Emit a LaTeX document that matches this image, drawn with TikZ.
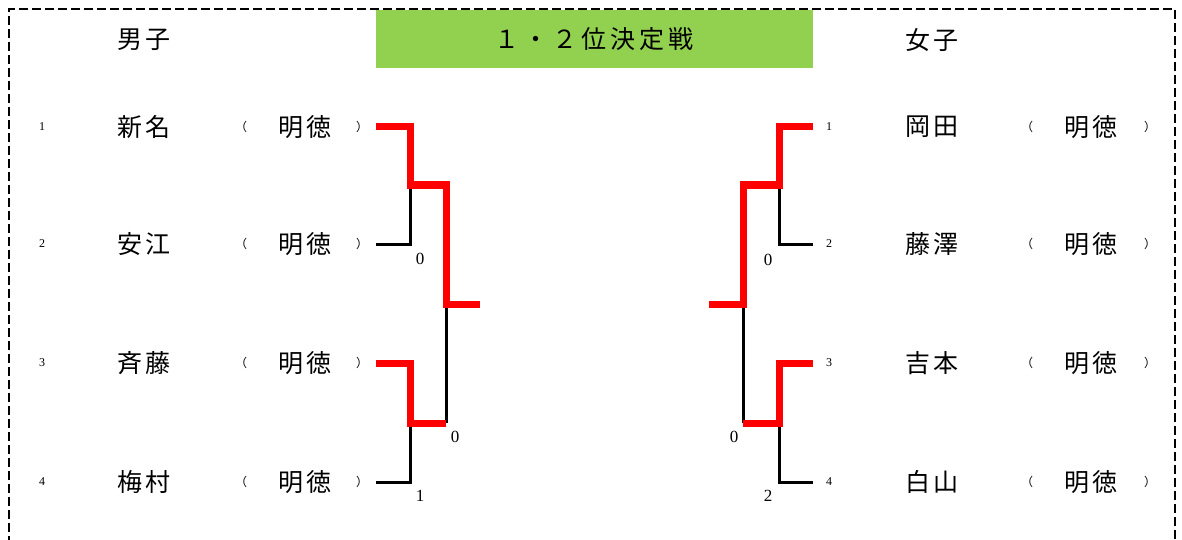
\documentclass[tikz,border=0pt]{standalone}
\usepackage{fontspec}
\setmainfont{Liberation Serif}
\newfontfamily\jp{Noto Sans CJK JP}
\newfontfamily\jpwide[LetterSpace=12]{Noto Sans CJK JP}
\newfontfamily\jptitle[LetterSpace=16]{Noto Sans CJK JP}
\definecolor{titlegreen}{HTML}{92D050}
\definecolor{winred}{HTML}{FF0000}
\begin{document}
\begin{tikzpicture}[x=1pt,y=-1pt,
  jpname/.style={font=\jpwide\fontsize{25}{25}\selectfont, inner sep=0pt, anchor=center},
  paren/.style={font=\jp\fontsize{12}{12}\selectfont, inner sep=0pt},
  seed/.style={font=\fontsize{12}{12}\selectfont, inner sep=0pt},
  score/.style={font=\fontsize{17}{17}\selectfont, inner sep=0pt},
  winline/.style={draw=winred, line width=7pt, line join=miter},
  loseline/.style={draw=black, line width=3pt}]
\useasboundingbox (0,0) rectangle (1182,540);
% border
\draw[line width=2.8pt, dash pattern=on 9pt off 4pt] (9,545) -- (9,9) -- (1175,9) -- (1175,545);
% title
\node[fill=titlegreen, minimum width=437pt, minimum height=58pt, inner sep=0pt, anchor=north west] (title) at (376,10) {};
\node[inner sep=0pt, font=\jptitle\fontsize{25}{25}\selectfont] (titletext) at (594,39) {１・２位決定戦};
\node[jpname] (boys) at (144,40) {男子};
\node[jpname] (girls) at (932,40) {女子};
% left entries
\foreach \i/\y/\n in {1/127/新名, 2/244/安江, 3/363/斉藤, 4/482/梅村}{
  \node[seed] (ls\i) at (42,\y) {\i};
  \node[jpname] (ln\i) at (144,\y) {\n};
  \node[paren] (lpo\i) at (241,\y) {（};
  \node[jpname] (lt\i) at (305,\y) {明徳};
  \node[paren] (lpc\i) at (362,\y) {）};
  \coordinate (le\i) at (376,\y);
}
\foreach \i/\y/\n in {1/127/岡田, 2/244/藤澤, 3/363/吉本, 4/482/白山}{
  \node[seed] (rs\i) at (829,\y) {\i};
  \node[jpname] (rn\i) at (932,\y) {\n};
  \node[paren] (rpo\i) at (1027,\y) {（};
  \node[jpname] (rt\i) at (1091,\y) {明徳};
  \node[paren] (rpc\i) at (1150,\y) {）};
  \coordinate (re\i) at (813,\y);
}
% left bracket junctions
\coordinate (la) at (410,185);
\coordinate (lb) at (410,423);
\coordinate (lc) at (446,304);
\coordinate (lf) at (480,304);
\draw[loseline] (le2) -| (la);
\draw[loseline] (le4) -| (lb);
\draw[loseline] (lb -| lc) -- (lc);
\draw[winline] (le1) -| (la) -- (la -| lc) -- (lc) -- (lf);
\draw[winline] (le3) -| (lb) -- (lb -| lc);
\node[score] (lsc1) at (420,259) {0};
\node[score] (lsc2) at (455,437) {0};
\node[score] (lsc3) at (420,496) {1};
% right bracket junctions
\coordinate (ra) at (779,185);
\coordinate (rb) at (779,423);
\coordinate (rc) at (743,304);
\coordinate (rf) at (709,304);
\draw[loseline] (re2) -| (ra);
\draw[loseline] (re4) -| (rb);
\draw[loseline] (rc) -- (rb -| rc);
\draw[winline] (re1) -| (ra) -- (ra -| rc) -- (rc) -- (rf);
\draw[winline] (re3) -| (rb) -- (rb -| rc);
\node[score] (rsc1) at (768,260) {0};
\node[score] (rsc2) at (734,437) {0};
\node[score] (rsc3) at (768,496) {2};
\end{tikzpicture}
\end{document}
